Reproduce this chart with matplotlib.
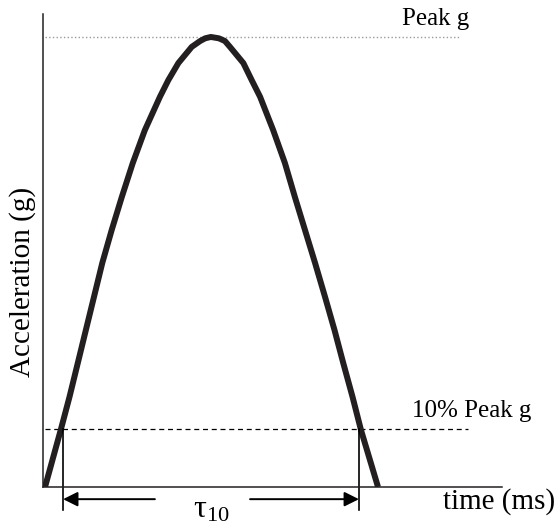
import matplotlib
matplotlib.use("Agg")
import matplotlib.pyplot as plt

plt.rcParams['font.family'] = ['Liberation Serif', 'DejaVu Serif']

# Pulse shape (time in ms, acceleration as fraction of peak)
time_ms = [0.06, 0.53, 0.79, 1.04, 1.28, 1.52, 1.77, 2.05, 2.35, 2.68, 3.04, 3.49,
           3.74, 4.04, 4.44, 4.69, 4.84, 5.01, 5.25, 5.43, 5.58, 5.98, 6.23, 6.48,
           6.87, 7.22, 7.52, 7.82, 8.12, 8.42, 8.70, 8.96, 9.24, 9.49, 10.0]
accel_g = [0.0, 0.127, 0.200, 0.276, 0.349, 0.422, 0.498, 0.571, 0.644, 0.720, 0.793, 0.867,
           0.904, 0.942, 0.978, 0.991, 0.997, 1.0, 0.997, 0.991, 0.978, 0.942, 0.904, 0.867,
           0.793, 0.720, 0.644, 0.571, 0.498, 0.422, 0.349, 0.276, 0.200, 0.127, 0.0]

peak_level = 1.0
level_10 = 0.129
tau_start = 0.60
tau_end = 9.43

fig = plt.figure(figsize=(5.6, 5.23), dpi=100)
ax = fig.add_axes([0.0768, 0.0688, 0.8196, 0.9044])
ax.set_xlim(0, 13.70)
ax.set_ylim(0, 1.051)

# Reference levels
ax.plot([0.06, 12.45], [peak_level, peak_level], color='#9a9a9a', lw=1.0, ls=':')
ax.plot([0.06, 12.69], [level_10, level_10], color='black', lw=0.9, ls=(0, (4, 3)))

# Pulse
ax.plot(time_ms, accel_g, color='#231f20', lw=4.3, solid_capstyle='butt', solid_joinstyle='round')

# Duration markers below the axis
for t in [tau_start, tau_end]:
    ax.plot([t, t], [level_10, -0.051], color='black', lw=1.2, clip_on=False)

arrow = dict(arrowstyle='-|>', color='black', lw=1.4, mutation_scale=22, shrinkA=0, shrinkB=0)
ax.annotate('', xy=(tau_start, -0.027), xytext=(3.34, -0.027), arrowprops=arrow, annotation_clip=False)
ax.annotate('', xy=(tau_end, -0.027), xytext=(6.18, -0.027), arrowprops=arrow, annotation_clip=False)
ax.text(5.01, -0.050, r'$\mathregular{τ_{10}}$', fontsize=23, ha='center', va='center')

# Labels
ax.text(10.72, 1.027, 'Peak g', fontsize=18, ha='left', va='baseline')
ax.text(11.01, 0.156, '10% Peak g', fontsize=18, ha='left', va='baseline')
ax.text(11.94, -0.049, 'time (ms)', fontsize=21, ha='left', va='baseline')
fig.text(23 / 560, (523 - 282) / 523, 'Acceleration (g)', fontsize=21, rotation=90,
         ha='center', va='center')

for side in ['top', 'right']:
    ax.spines[side].set_visible(False)
for side in ['left', 'bottom']:
    ax.spines[side].set_color('#231f20')
    ax.spines[side].set_linewidth(1.1)
ax.set_xticks([])
ax.set_yticks([])

plt.savefig('out.png', dpi=100)
plt.close()
